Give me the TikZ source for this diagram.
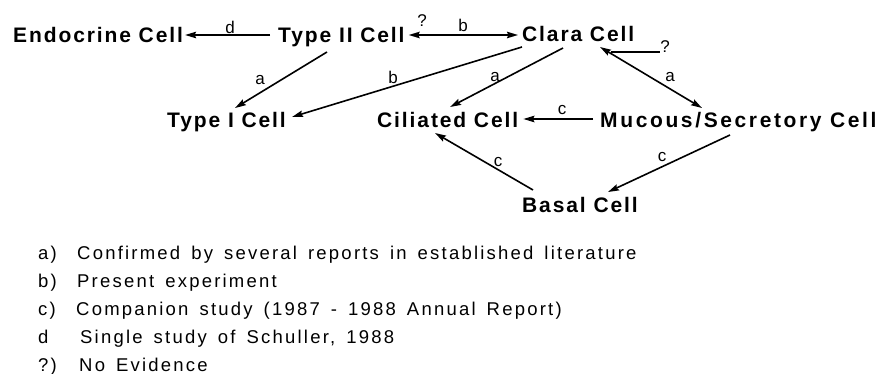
\documentclass[tikz,border=0pt]{standalone}
\usepackage{fontspec}
\setmainfont{Liberation Sans}
\newfontfamily\cellfont[LetterSpace=9]{Liberation Sans}
\newfontfamily\cellfontw[LetterSpace=12.5]{Liberation Sans}
\newfontfamily\legfont[LetterSpace=12,WordSpace=1.5]{Liberation Sans}
\usetikzlibrary{arrows.meta}
\tikzset{mytip/.tip={Stealth[length=11pt,width=6.5pt,inset=1.5pt]}}
\begin{document}
\begin{tikzpicture}[x=1pt,y=-1pt,
  cell/.style={anchor=base west,inner sep=0pt,font=\cellfont\bfseries\fontsize{21}{25}\selectfont},
  cellw/.style={cell,font=\cellfontw\bfseries\fontsize{21}{25}\selectfont},
  lab/.style={inner sep=0pt,font=\fontsize{17}{19}\selectfont},
  leg/.style={anchor=base west,inner sep=0pt,font=\legfont\fontsize{18.5}{22}\selectfont},
  arr/.style={line width=1.6pt,-{mytip}},
  darr/.style={line width=1.6pt,{mytip}-{mytip}},
  ln/.style={line width=1.4pt}]
\useasboundingbox (0,0) rectangle (877,374);
% cells
\node[cell] (endo) at (13,43) {Endocrine Cell};
\node[cell] (t2) at (278,43) {Type II Cell};
\node[cell] (clara) at (522,42) {Clara Cell};
\node[cell] (t1) at (167,128) {Type I Cell};
\node[cell] (cil) at (377,128) {Ciliated Cell};
\node[cellw] (muc) at (600,128) {Mucous/Secretory Cell};
\node[cell] (basal) at (522,212) {Basal Cell};
% arrows
\draw[arr] ([xshift=-8pt,yshift=8pt]t2.base west) -- ([xshift=2pt,yshift=8pt]endo.base east);
\draw[darr] ([xshift=4pt,yshift=8pt]t2.base east) -- ([xshift=-4pt,yshift=7pt]clara.base west);
\draw[arr] ([xshift=49pt,yshift=-9pt]t2.base west) -- ([xshift=68pt,yshift=20pt]t1.base west);
\draw[arr] ([xshift=0pt,yshift=-5pt]clara.base west) -- ([xshift=6pt,yshift=11pt]t1.base east);
\draw[arr] ([xshift=41pt,yshift=-6pt]clara.base west) -- ([xshift=73pt,yshift=21pt]cil.base west);
\draw[darr] ([xshift=78pt,yshift=-5pt]clara.base west) -- ([xshift=102pt,yshift=20pt]muc.base west);
\draw[arr] ([xshift=-7pt,yshift=9pt]muc.base west) -- ([xshift=5pt,yshift=9pt]cil.base east);
\draw[arr] ([xshift=11pt,yshift=22pt]basal.base west) -- ([xshift=58pt,yshift=-5pt]cil.base west);
\draw[arr] ([xshift=130pt,yshift=-7pt]muc.base west) -- ([xshift=86pt,yshift=20pt]basal.base west);
% arrow labels
\node[lab] (ld) at (230,27) {d};
\node[lab] (lq1) at (422,21) {?};
\node[lab] (lb1) at (463,25) {b};
\node[lab] (la1) at (260,80) {a};
\node[lab] (lb2) at (393,77) {b};
\node[lab] (la2) at (495,77) {a};
\node[lab] (la3) at (670,77) {a};
\node[lab] (lq2) at (665,47) {?};
\coordinate (qs) at (611,52);
\draw[ln] (qs) -- (lq2.south west |- qs);
\node[lab] (lc1) at (562,110) {c};
\node[lab] (lc2) at (498,162) {c};
\node[lab] (lc3) at (662,157) {c};
% legend
\node[leg] (ka) at (38,259) {a)};
\node[leg] (ta) at (77,259) {Confirmed by several reports in established literature};
\node[leg] (kb) at (38,287) {b)};
\node[leg] (tb) at (77,287) {Present experiment};
\node[leg] (kc) at (38,315.5) {c)};
\node[leg] (tc) at (76,315.5) {Companion study (1987 - 1988 Annual Report)};
\node[leg] (kd) at (38,343.5) {d};
\node[leg] (td) at (80,343.5) {Single study of Schuller, 1988};
\node[leg] (kq) at (38,371) {?)};
\node[leg] (tq) at (79,371) {No Evidence};
\end{tikzpicture}
\end{document}
